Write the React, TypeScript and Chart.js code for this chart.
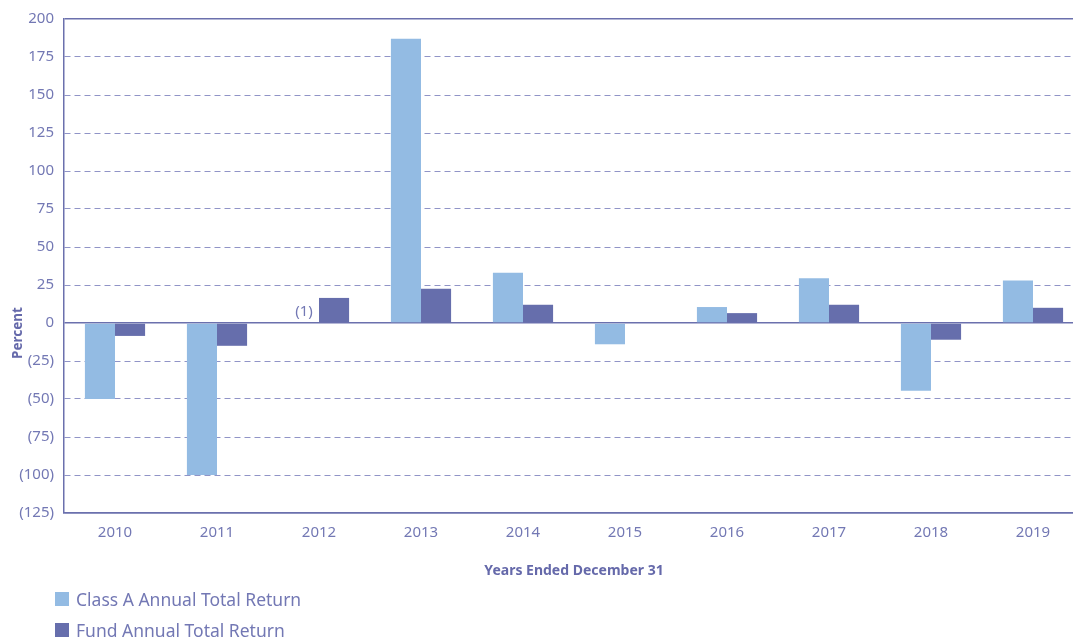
import React, { useEffect, useRef } from 'react';
import { Chart, registerables } from 'chart.js';

Chart.register(...registerables);

const years = ['2010', '2011', '2012', '2013', '2014', '2015', '2016', '2017', '2018', '2019'];
const classAReturns: (number | null)[] = [-50, -100, null, 187, 33, -14, 10.5, 29.5, -44.5, 28];
const fundReturns: (number | null)[] = [-8.5, -15, 16.5, 22.5, 12, null, 6.5, 12, -11, 10];
const seriesNames = ['Class A Annual Total Return', 'Fund Annual Total Return'];
const yMin = -125;
const yMax = 200;
const yStep = 25;
const xTitle = 'Years Ended December 31';
const yTitle = 'Percent';
const footnoteLabel = '(1)';
const footnoteIndex = 2;

const colorA = '#93bbe3';
const colorFund = '#666eac';
const textColor = '#7378b4';
const titleColor = '#6569aa';
const gridColor = '#9094c7';
const axisColor = '#6b70ad';
const FONT = '"Noto Sans", "Open Sans", sans-serif';

const annotationPlugin = {
  id: 'annotationPlugin',
  afterDraw(chart: any) {
    const ctx = chart.ctx as CanvasRenderingContext2D;
    const yScale = chart.scales.y;
    const zeroY = yScale.getPixelForValue(0);
    // y-axis title
    ctx.save();
    ctx.font = `bold 13.5px ${FONT}`;
    ctx.fillStyle = titleColor;
    ctx.translate(chart.chartArea.left - 46, zeroY + 10);
    ctx.rotate(-Math.PI / 2);
    ctx.textAlign = 'center';
    ctx.textBaseline = 'middle';
    ctx.fillText(yTitle, 0, 0);
    ctx.restore();
    // footnote marker
    const fundEl = chart.getDatasetMeta(1).data[footnoteIndex];
    if (fundEl) {
      const x = fundEl.x - fundEl.width;
      ctx.save();
      ctx.font = `15px ${FONT}`;
      ctx.fillStyle = textColor;
      ctx.textAlign = 'center';
      ctx.textBaseline = 'middle';
      ctx.fillText(footnoteLabel, x, zeroY - 11);
      ctx.restore();
    }
  },
};

export default function App() {
  const canvasRef = useRef<HTMLCanvasElement | null>(null);

  useEffect(() => {
    if (!canvasRef.current) return;
    const solidValues = [0, yMax, yMin];
    const chart = new Chart(canvasRef.current, {
      type: 'bar',
      data: {
        labels: years,
        datasets: [
          {
            label: seriesNames[0],
            data: classAReturns,
            backgroundColor: colorA,
            borderWidth: 0,
            categoryPercentage: 0.59,
            barPercentage: 1,
          },
          {
            label: seriesNames[1],
            data: fundReturns,
            backgroundColor: colorFund,
            borderWidth: 0,
            categoryPercentage: 0.59,
            barPercentage: 1,
          },
        ],
      },
      options: {
        responsive: false,
        animation: false,
        devicePixelRatio: 1,
        layout: { padding: { top: 18, left: 0, right: 0, bottom: 0 } },
        plugins: {
          legend: { display: false },
          tooltip: { enabled: false },
        },
        scales: {
          x: {
            grid: { display: false, drawTicks: false },
            border: { display: true, color: axisColor, width: 1.5 },
            ticks: {
              color: textColor,
              font: { family: FONT, size: 15 },
              padding: 11,
              maxRotation: 0,
            },
            title: {
              display: true,
              text: xTitle,
              color: titleColor,
              font: { family: FONT, size: 14, weight: 'bold' },
              padding: { top: 0, bottom: 60 },
            },
            afterFit: (scale: any) => {
              scale.height = 126;
            },
          },
          y: {
            min: yMin,
            max: yMax,
            grid: {
              drawTicks: false,
              color: (c: any) => (c.tick && solidValues.includes(c.tick.value) ? axisColor : gridColor),
              lineWidth: (c: any) => (c.tick && solidValues.includes(c.tick.value) ? 1.5 : 1),
            },
            border: {
              display: true,
              color: axisColor,
              width: 1.5,
              dash: (c: any) => (c.tick && !solidValues.includes(c.tick.value) ? [6, 4] : []),
            },
            ticks: {
              stepSize: yStep,
              color: textColor,
              font: { family: FONT, size: 15 },
              padding: 10,
              callback: (v: any) => (Number(v) < 0 ? `(${-Number(v)})` : `${v}`),
            },
            afterFit: (scale: any) => {
              scale.width = 64;
            },
          },
        },
      },
      plugins: [annotationPlugin],
    } as any);
    return () => chart.destroy();
  }, []);

  const legendItem = (name: string, color: string, top: number) => (
    <div
      key={name}
      style={{ position: 'absolute', left: 55, top, height: 14, display: 'flex', alignItems: 'center' }}
    >
      <div style={{ width: 14, height: 14, background: color, flex: 'none' }} />
      <span
        style={{
          marginLeft: 7,
          fontFamily: FONT,
          fontSize: 17.5,
          color: textColor,
          whiteSpace: 'nowrap',
          lineHeight: '14px',
        }}
      >
        {name}
      </span>
    </div>
  );

  return (
    <div
      style={{
        position: 'fixed',
        left: 0,
        top: 0,
        width: 1073,
        height: 639,
        overflow: 'hidden',
        background: '#ffffff',
      }}
    >
      <canvas ref={canvasRef} width={1084} height={639} style={{ display: 'block' }} />
      {legendItem(seriesNames[0], colorA, 592)}
      {legendItem(seriesNames[1], colorFund, 623)}
    </div>
  );
}
